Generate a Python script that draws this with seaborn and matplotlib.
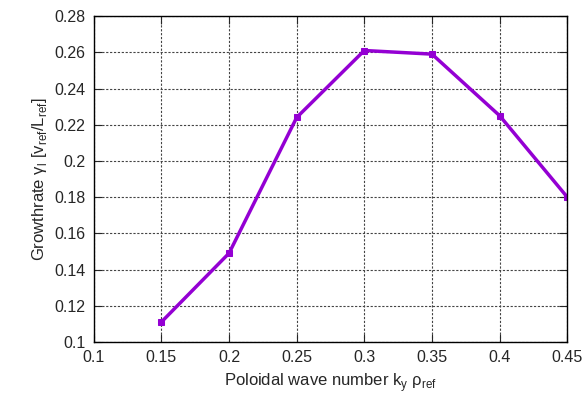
import matplotlib
matplotlib.use("Agg")
import matplotlib.pyplot as plt
import seaborn as sns
import pandas as pd

ky = [0.15, 0.2, 0.25, 0.3, 0.35, 0.4, 0.45]
gamma = [0.111, 0.149, 0.224, 0.261, 0.259, 0.225, 0.180]
xticks = [0.1, 0.15, 0.2, 0.25, 0.3, 0.35, 0.4, 0.45]
yticks = [0.1, 0.12, 0.14, 0.16, 0.18, 0.2, 0.22, 0.24, 0.26, 0.28]

sns.set_style("ticks")
plt.rcParams['font.family'] = ['Liberation Sans', 'DejaVu Sans']

df = pd.DataFrame({"ky": ky, "gamma": gamma})
fig = plt.figure(figsize=(5.86, 3.93), dpi=100)
ax = fig.add_axes([0.160, 0.130, 0.808, 0.829])
sns.lineplot(data=df, x="ky", y="gamma", ax=ax, color="#9400D3", linewidth=2.5,
             marker="s", markersize=5, markeredgecolor="#9400D3")
ax.set_xlim(0.1, 0.45)
ax.set_ylim(0.1, 0.28)
ax.set_xticks(xticks)
ax.set_xticklabels([f"{v:g}" for v in xticks])
ax.set_yticks(yticks)
ax.set_yticklabels([f"{v:g}" for v in yticks])
ax.grid(True, linestyle=(0, (2, 1.5)), color="#444444", linewidth=0.8)
ax.tick_params(direction="in", top=True, right=True, length=6, labelsize=11.5, pad=6)
for s in ax.spines.values():
    s.set_linewidth(1.0)
    s.set_color("black")
ax.set_xlabel("Poloidal wave number k$_\\mathregular{y}$ ρ$_\\mathregular{ref}$", fontsize=12)
ax.set_ylabel("Growthrate γ$_\\mathregular{l}$ [v$_\\mathregular{ref}$/L$_\\mathregular{ref}$]", fontsize=12)
fig.savefig("out.png", dpi=100)
